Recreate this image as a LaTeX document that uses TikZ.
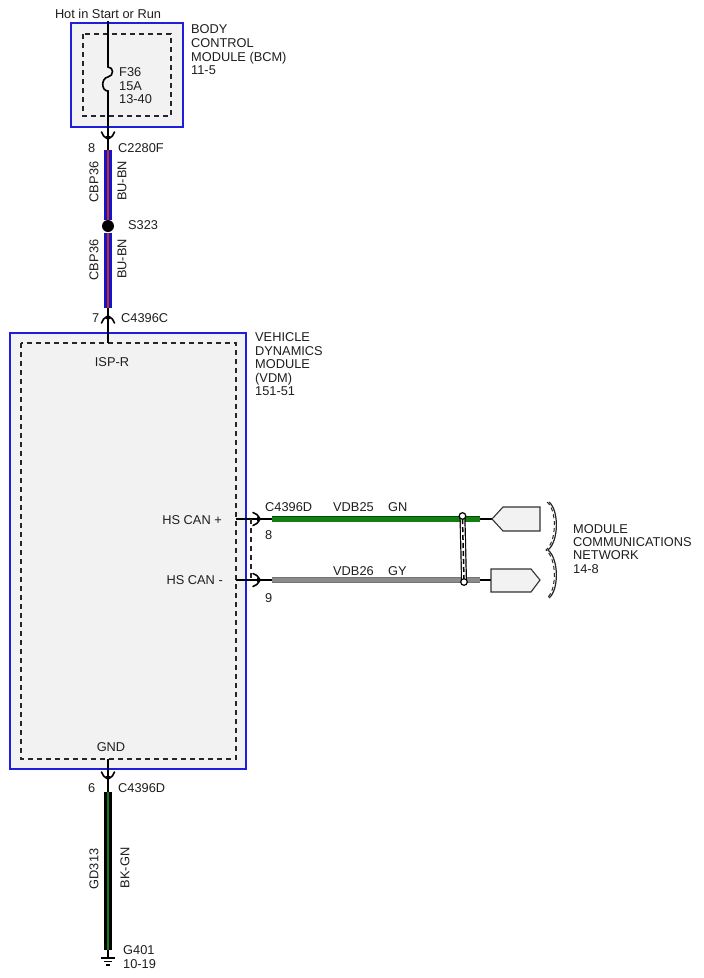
\documentclass[tikz,border=0pt]{standalone}
\usepackage{fontspec}
\setmainfont{Liberation Sans}
\definecolor{modblue}{RGB}{30,30,220}
\definecolor{modfill}{RGB}{242,242,242}
\definecolor{wblue}{RGB}{20,20,205}
\definecolor{wred}{RGB}{205,45,20}
\definecolor{wgreen}{RGB}{20,125,20}
\definecolor{wgray}{RGB}{140,140,140}
\definecolor{txt}{RGB}{30,30,30}
\tikzset{
  lbl/.style={font=\fontsize{12.8}{13.6}\selectfont, text=txt, inner sep=0pt},
  modbox/.style={draw=modblue, line width=1.9pt, fill=modfill},
  dashbox/.style={draw=black!85, dash pattern=on 5pt off 4pt, line width=1.2pt},
  wire/.style={line width=1.6pt, black},
  endshape/.style={fill=modfill, draw=black!80, line width=1.1pt},
  conn/.pic={\draw[line width=1.6pt, line cap=round] (-7,-6.5) .. controls (-4.5,-6) and (-2,-4) .. (0,0) .. controls (-2,4) and (-4.5,6) .. (-7,6.5);
             \fill (1.5,0) -- (-3,-2.2) -- (-3,2.2) -- cycle;}
}
\begin{document}
\begin{tikzpicture}[x=1pt,y=-1pt]
\useasboundingbox (0,0) rectangle (704,978);
\fill[white] (0,0) rectangle (704,978);

% ---- BCM ----
\draw[modbox] (71,23) rectangle (183,127);
\draw[dashbox] (83,34) rectangle (171,116);
\node[lbl, anchor=base] (hot) at (108,18.6) {Hot in Start or Run};
\node[lbl, align=left, anchor=north west] (bcm) at (191,24.8) {BODY\\CONTROL\\MODULE (BCM)\\11-5};
\node[lbl, align=left, anchor=north west] (f36) at (119,67.4) {F36\\15A\\13-40};

\coordinate (hotw) at (108,21);
\coordinate (fuseT) at (108,67);
\coordinate (fuseM) at (108,77);
\coordinate (fuseB) at (108,91);
\coordinate (c1tip) at (108,139);
\coordinate (bw1a) at (108,150);
\coordinate (bw1b) at (108,219.5);
\coordinate (bw2a) at (108,232.5);
\coordinate (bw2b) at (108,308);
\coordinate (c2tip) at (108,316);
\coordinate (vdmtop) at (108,343);

\draw[wire] (hotw) -- (fuseT) .. controls (114,67) and (114,76) .. (fuseM) .. controls (101,78) and (101,91) .. (fuseB) -- (c1tip) -- (bw1a);
\pic[rotate=-90] at (c1tip) {conn};
\node[lbl, anchor=west] (p8a) at (88,148) {8};
\node[lbl, anchor=west] (c2280f) at (118,148) {C2280F};

% blue wires
\draw[line width=8pt, wblue] (bw1a) -- (bw1b);
\draw[line width=1.1pt, wred] (bw1a) -- (bw1b);
\draw[line width=8pt, wblue] (bw2a) -- (bw2b);
\draw[line width=1.1pt, wred] (bw2a) -- (bw2b);
\node[circle, fill=black, inner sep=0pt, minimum size=12pt] (s323) at (108,226) {};
\node[lbl, anchor=west] (s323l) at (128,225) {S323};
\node[lbl, rotate=90] (cbp1) at (94,182) {CBP36};
\node[lbl, rotate=90] (bubn1) at (122,181) {BU-BN};
\node[lbl, rotate=90] (cbp2) at (94,260) {CBP36};
\node[lbl, rotate=90] (bubn2) at (122,259) {BU-BN};

% ---- VDM ----
\draw[modbox] (10,333) rectangle (246,769);
\draw[dashbox] (21,343) rectangle (236,759);
\draw[wire] (bw2b) -- (c2tip) -- (vdmtop);
\pic[rotate=90] at (c2tip) {conn};
\node[lbl, anchor=west] (p7) at (92,318) {7};
\node[lbl, anchor=west] (c4396c) at (121,318) {C4396C};
\node[lbl, align=left, anchor=north west] (vdml) at (255,332.4) {VEHICLE\\DYNAMICS\\MODULE\\(VDM)\\151-51};
\node[lbl] (ispr) at (112,362) {ISP-R};

% ---- CAN ----
\coordinate (cpin) at (236,519);
\coordinate (cptip) at (260,519);
\coordinate (cpa) at (272,519);
\coordinate (cpb) at (480,519);
\coordinate (cpend) at (492,519);
\coordinate (cmin) at (236,580);
\coordinate (cmtip) at (260,580);
\coordinate (cma) at (272,580);
\coordinate (cmb) at (480,580);
\coordinate (cmend) at (491,580);

\draw[wire] (cpin) -- (cptip) -- (cpa);
\draw[wire] (cmin) -- (cmtip) -- (cma);
\pic at (cptip) {conn};
\pic at (cmtip) {conn};
\draw[black!85, dash pattern=on 5pt off 4pt, line width=1.2pt] (251,519) -- (251,580);

\draw[line width=6.5pt, green!30!black] (cpa) -- (cpb);
\draw[line width=5pt, wgreen] (cpa) -- (cpb);
\draw[line width=6.5pt, black!55] (cma) -- (cmb);
\draw[line width=4.5pt, wgray] (cma) -- (cmb);
\draw[wire] (cpb) -- (cpend);
\draw[wire] (cmb) -- (cmend);

\node[lbl, anchor=east] (canp) at (222,520) {HS CAN +};
\node[lbl, anchor=east] (canm) at (223,580) {HS CAN -};
\node[lbl, anchor=west] (c4396d1) at (265,507) {C4396D};
\node[lbl, anchor=west] (vdb25) at (333,507) {VDB25};
\node[lbl, anchor=west] (gn) at (388,507) {GN};
\node[lbl, anchor=west] (p8b) at (265,535) {8};
\node[lbl, anchor=west] (vdb26) at (333,571) {VDB26};
\node[lbl, anchor=west] (gy) at (388,571) {GY};
\node[lbl, anchor=west] (p9) at (265,598) {9};

% twist
\draw[line width=6pt, black] (462.5,518) -- (464,580);
\draw[line width=3.6pt, white] (462.5,518) -- (464,580);
\draw[line width=1.5pt, black, dash pattern=on 5pt off 3pt] (462.5,519) -- (464,580);
\draw[line width=1.2pt, fill=white] (462.5,516) circle (3.3);
\draw[line width=1.2pt, fill=white] (464,582) circle (3.3);

% end shapes
\draw[endshape] (cpend) -- (503,507) -- (540,507) -- (540,531) -- (503,531) -- cycle;
\draw[endshape] (491,569) -- (531,569) -- (540,580) -- (531,592) -- (491,592) -- cycle;

% brace
\draw[line width=1.2pt, black!85] (549,502) .. controls (559,510) and (559,541) .. (548,550) .. controls (559,559) and (559,590) .. (549,598);
\draw[line width=1pt, black!85, dash pattern=on 4pt off 3pt, xshift=-2pt] (549,502) .. controls (559,510) and (559,541) .. (548,550) .. controls (559,559) and (559,590) .. (549,598);
\node[lbl, align=left, anchor=north west, font=\fontsize{12.8}{13.2}\selectfont] (mcn) at (573,524.4) {MODULE\\COMMUNICATIONS\\NETWORK\\14-8};

% ---- ground ----
\coordinate (vdmbot) at (108,759);
\coordinate (c3tip) at (108,779);
\coordinate (gwa) at (108,792);
\coordinate (gwb) at (108,950);
\coordinate (gnode) at (108,958);
\draw[wire] (vdmbot) -- (c3tip) -- (gwa);
\pic[rotate=-90] at (c3tip) {conn};
\node[lbl] (gnd) at (111,747) {GND};
\node[lbl, anchor=west] (p6) at (88,788) {6};
\node[lbl, anchor=west] (c4396d2) at (118,788) {C4396D};
\draw[line width=8pt, black] (gwa) -- (gwb);
\draw[line width=2.6pt, wgreen] (gwa) -- (gwb);
\draw[wire] (gwb) -- (gnode);
\draw[line width=1.1pt] (101,958) -- (115,958);
\draw[line width=1.1pt] (104,961.5) -- (112,961.5);
\draw[line width=1.1pt] (106,965) -- (110,965);
\node[lbl, rotate=90] (gd313) at (94,869) {GD313};
\node[lbl, rotate=90] (bkgn) at (125,868) {BK-GN};
\node[lbl, align=left, anchor=north west] (g401) at (123,945.4) {G401\\10-19};
\end{tikzpicture}
\end{document}
